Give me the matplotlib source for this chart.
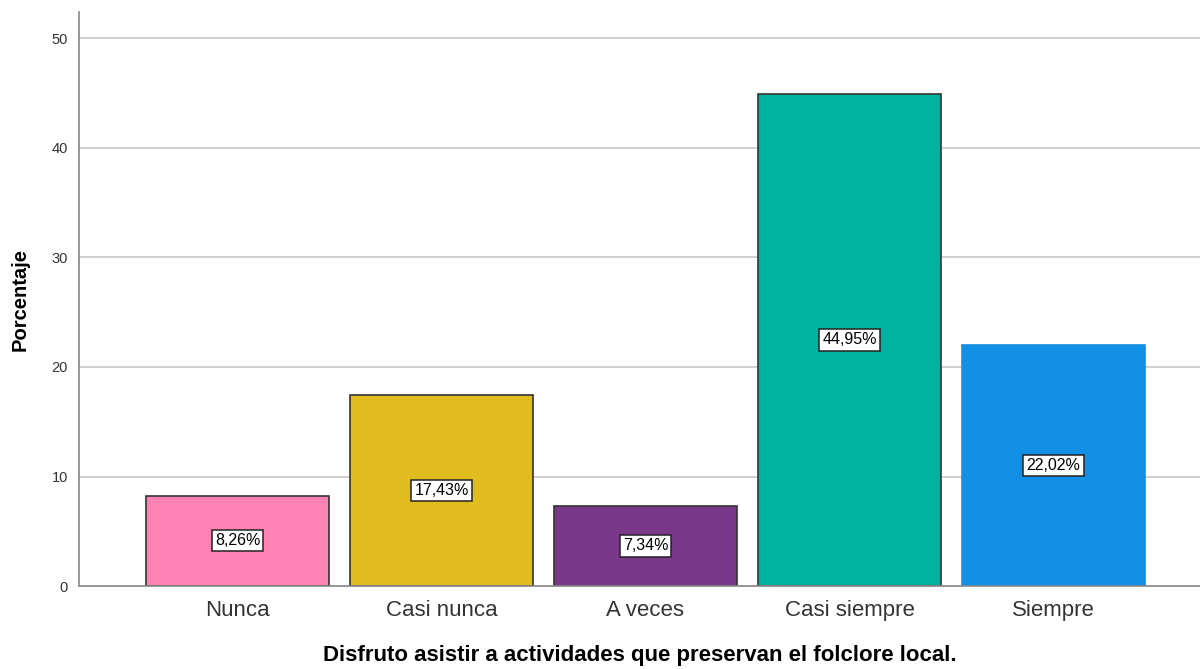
import matplotlib
matplotlib.use("Agg")
import matplotlib.pyplot as plt
import numpy as np

plt.rcParams["font.family"] = ["Liberation Sans", "DejaVu Sans"]

categories = ["Nunca", "Casi nunca", "A veces", "Casi siempre", "Siempre"]
values = [8.26, 17.43, 7.34, 44.95, 22.02]
colors = ["#FF82B5", "#E1BC1E", "#79388A", "#00B39F", "#1290E6"]
edges = ["#333333", "#333333", "#333333", "#333333", "#1290E6"]

fig = plt.figure(figsize=(12, 6.69), dpi=100)
ax = fig.add_axes([0.0658, 0.124, 0.9342, 0.858])

x = np.arange(len(categories))
ax.set_axisbelow(True)
ax.yaxis.grid(True, color="#C8C8C8", linewidth=1.2)
bars = ax.bar(x, values, width=0.897, color=colors, edgecolor=edges, linewidth=1.2)

for rect, v in zip(bars, values):
    ax.text(
        rect.get_x() + rect.get_width() / 2,
        v / 2,
        f"{v:.2f}%".replace(".", ","),
        ha="center",
        va="center",
        fontsize=11.5,
        color="black",
        bbox=dict(boxstyle="square,pad=0.2", fc="white", ec="#222222", lw=1.1),
    )

ax.set_xlim(-0.777, 4.718)
ax.set_ylim(0, 52.4)
ax.set_yticks([0, 10, 20, 30, 40, 50])
ax.set_xticks(x)
ax.set_xticklabels(categories, fontsize=16, color="#333333")
ax.tick_params(axis="y", labelsize=10.5, length=0, pad=8, colors="#333333")
ax.tick_params(axis="x", length=0, pad=10)

for s in ["top", "right"]:
    ax.spines[s].set_visible(False)
for s in ["left", "bottom"]:
    ax.spines[s].set_color("#888888")
    ax.spines[s].set_linewidth(1.2)

ax.set_ylabel("Porcentaje", fontsize=14.5, fontweight="bold", labelpad=16)
ax.set_xlabel("Disfruto asistir a actividades que preservan el folclore local.",
              fontsize=16, fontweight="bold", labelpad=17)

fig.savefig("out.png", dpi=100)
